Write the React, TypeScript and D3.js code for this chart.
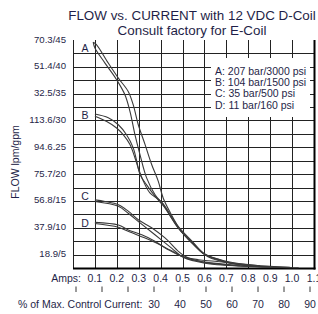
import React, { useEffect, useRef } from 'react'
import * as d3 from 'd3'

// axis values
const ampTicks = [0.1, 0.2, 0.3, 0.4, 0.5, 0.6, 0.7, 0.8, 0.9, 1.0, 1.1]
const ampLabels = ['0.1', '0.2', '0.3', '0.4', '0.5', '0.6', '0.7', '0.8', '0.9', '1.0', '1.1']
const pctTicks = [0, 10, 20, 30, 40, 50, 60, 70, 80, 90]
const pctLabels = ['', '', '', '30', '40', '50', '60', '70', '80', '90']
const flowTicks = [45, 40, 35, 30, 25, 20, 15, 10, 5]
const flowLabels = ['70.3/45', '51.4/40', '32.5/35', '113.6/30', '94.6.25', '75.7/20', '56.8/15', '37.9/10', '18.9/5']

// curves: [amps, gpm], two traces each (up / down current)
const curveA1 = [[0.092, 44.6], [0.1, 43.5], [0.146, 40.7], [0.199, 37.6], [0.237, 34.8], [0.26, 31.7], [0.283, 27.3], [0.306, 23.6], [0.336, 19.3], [0.374, 16.2], [0.412, 14.3], [0.479, 10.0], [0.543, 7.2], [0.598, 5.1], [0.68, 3.8], [0.808, 2.9], [1.0, 2.6]]
const curveA2 = [[0.092, 44.6], [0.106, 44.2], [0.161, 40.7], [0.207, 37.9], [0.252, 35.4], [0.275, 32.9], [0.298, 29.2], [0.329, 25.5], [0.359, 21.8], [0.389, 18.7], [0.412, 15.5], [0.443, 12.9], [0.497, 9.2], [0.557, 6.6], [0.616, 4.6], [0.717, 3.4], [0.899, 2.7], [1.03, 2.55]]
const curveB1 = [[0.1, 31.2], [0.161, 30.5], [0.207, 29.2], [0.245, 27.3], [0.275, 24.9], [0.291, 22.4], [0.306, 19.9], [0.336, 18.0], [0.382, 15.5], [0.412, 14.1], [0.488, 9.6], [0.549, 7.1], [0.595, 5.2], [0.671, 4.0], [0.762, 3.1], [0.884, 2.65], [1.0, 2.6]]
const curveB2 = [[0.1, 30.8], [0.154, 29.8], [0.199, 28.6], [0.23, 27.3], [0.26, 25.5], [0.283, 23.0], [0.298, 21.1], [0.321, 18.7], [0.351, 16.5], [0.405, 14.8], [0.479, 10.3], [0.543, 7.5], [0.602, 5.1], [0.694, 3.8], [0.853, 2.9]]
const curveC1 = [[0.1, 15.2], [0.146, 14.9], [0.207, 14.3], [0.252, 13.1], [0.298, 11.5], [0.359, 10.0], [0.42, 8.1], [0.481, 5.6], [0.511, 4.7], [0.593, 3.6], [0.762, 2.9], [0.99, 2.6]]
const curveC2 = [[0.1, 14.9], [0.207, 14.0], [0.252, 12.7], [0.306, 10.9], [0.374, 8.7], [0.45, 6.2], [0.503, 4.5], [0.602, 3.4], [0.808, 2.8]]
const curveD1 = [[0.1, 11.0], [0.207, 10.5], [0.252, 9.6], [0.314, 8.7], [0.374, 7.5], [0.435, 5.9], [0.496, 4.7], [0.572, 4.05], [0.648, 3.75], [0.808, 3.06], [0.99, 2.63]]
const curveD2 = [[0.1, 10.8], [0.207, 10.1], [0.26, 9.2], [0.351, 7.7], [0.443, 5.85], [0.511, 4.4], [0.602, 3.6], [0.762, 2.97]]

const curveNames = ['A', 'B', 'C', 'D']
const curveLabelFlow = [43.4, 31.0, 15.8, 10.9]
const legendItems = ['A: 207 bar/3000 psi', 'B: 104 bar/1500 psi', 'C: 35 bar/500 psi', 'D: 11 bar/160 psi']

const textColor = '#1f1f48'
const font = 'Liberation Sans, Arial, sans-serif'

function App() {
  const svgRef = useRef(null)

  useEffect(() => {
    const svg = d3.select(svgRef.current)
    svg.selectAll('*').remove()

    const x = d3.scaleLinear().domain([0, 1.1]).range([73, 314])
    const y = d3.scaleLinear().domain([2.5, 45]).range([268, 40])
    const pct = d3.scaleLinear().domain([0, 90]).range([76, 310])

    // titles
    const title = svg.append('g')
      .attr('font-family', font)
      .attr('font-size', 13.4)
      .attr('fill', textColor)
      .attr('text-anchor', 'middle')
    title.append('text').attr('x', 192).attr('y', 20).text('FLOW vs. CURRENT with 12 VDC D-Coil')
    title.append('text').attr('x', 192).attr('y', 35).text('Consult factory for E-Coil')

    // grid
    const grid = svg.append('g').attr('stroke', '#222').attr('stroke-width', 1)
    grid.selectAll('.v')
      .data(d3.range(0, 12).map(i => i / 10))
      .join('line')
      .attr('x1', d => Math.round(x(d)) + 0.5)
      .attr('x2', d => Math.round(x(d)) + 0.5)
      .attr('y1', y(45))
      .attr('y2', y(2.5))
    grid.selectAll('.h')
      .data(d3.range(1, 18).map(i => i * 2.5))
      .join('line')
      .attr('x1', x(0))
      .attr('x2', x(1.1))
      .attr('y1', d => Math.round(y(d)) + 0.5)
      .attr('y2', d => Math.round(y(d)) + 0.5)

    // heavier right and bottom frame
    svg.append('line')
      .attr('x1', x(1.1) + 0.5).attr('x2', x(1.1) + 0.5)
      .attr('y1', y(45)).attr('y2', y(2.5) + 1.5)
      .attr('stroke', '#000').attr('stroke-width', 2)
    svg.append('line')
      .attr('x1', x(0)).attr('x2', x(1.1) + 1.5)
      .attr('y1', y(2.5) + 0.5).attr('y2', y(2.5) + 0.5)
      .attr('stroke', '#000').attr('stroke-width', 2)

    // legend box
    svg.append('rect')
      .attr('x', 211).attr('y', 58)
      .attr('width', 99).attr('height', 59)
      .attr('fill', '#fff')
    svg.append('g')
      .attr('font-family', font)
      .attr('font-size', 10.5)
      .attr('fill', textColor)
      .selectAll('text')
      .data(legendItems)
      .join('text')
      .attr('x', 215)
      .attr('y', (d, i) => 74.5 + i * 11.4)
      .text(d => d)

    // curves
    const line = d3.line()
      .x(d => x(d[0]))
      .y(d => y(d[1]))
      .curve(d3.curveCatmullRom.alpha(0.5))
    svg.append('g')
      .attr('fill', 'none')
      .attr('stroke', '#3a3a3a')
      .attr('stroke-width', 1.1)
      .selectAll('path')
      .data([curveA1, curveA2, curveB1, curveB2, curveC1, curveC2, curveD1, curveD2])
      .join('path')
      .attr('d', line)

    // curve letters
    svg.append('g')
      .attr('font-family', font)
      .attr('font-size', 10.5)
      .attr('fill', textColor)
      .attr('text-anchor', 'middle')
      .selectAll('text')
      .data(curveNames)
      .join('text')
      .attr('x', 85)
      .attr('y', (d, i) => y(curveLabelFlow[i]) + 3.8)
      .text(d => d)

    // y axis labels
    svg.append('g')
      .attr('font-family', font)
      .attr('font-size', 9.6)
      .attr('fill', textColor)
      .attr('text-anchor', 'end')
      .selectAll('text')
      .data(flowTicks)
      .join('text')
      .attr('x', 66)
      .attr('y', d => y(d) + 2.5)
      .text((d, i) => flowLabels[i])

    svg.append('text')
      .attr('transform', 'translate(19, 162) rotate(-90)')
      .attr('font-family', font)
      .attr('font-size', 10.5)
      .attr('fill', textColor)
      .attr('text-anchor', 'middle')
      .text('FLOW lpm/gpm')

    // bottom: amps
    const bottom = svg.append('g')
      .attr('font-family', font)
      .attr('font-size', 10.5)
      .attr('fill', textColor)
    bottom.append('text')
      .attr('x', 81).attr('y', 281.5)
      .attr('text-anchor', 'end')
      .text('Amps:')
    bottom.selectAll('.amp')
      .data(ampTicks)
      .join('text')
      .attr('x', d => x(d))
      .attr('y', 281.5)
      .attr('text-anchor', 'middle')
      .text((d, i) => ampLabels[i])

    // percent ticks and labels
    bottom.selectAll('.tick')
      .data(pctTicks)
      .join('line')
      .attr('x1', d => pct(d)).attr('x2', d => pct(d))
      .attr('y1', 286.5).attr('y2', 292)
      .attr('stroke', '#222').attr('stroke-width', 0.9)
    bottom.append('text')
      .attr('x', 18).attr('y', 308)
      .text('% of Max. Control Current:')
    bottom.selectAll('.pct')
      .data(pctTicks.filter((d, i) => pctLabels[i] !== ''))
      .join('text')
      .attr('x', d => pct(d))
      .attr('y', 308)
      .attr('text-anchor', 'middle')
      .text(d => pctLabels[pctTicks.indexOf(d)])
  }, [])

  return (
    <svg
      ref={svgRef}
      width={318}
      height={314}
      style={{ position: 'absolute', left: 0, top: 0, background: '#fff' }}
    />
  )
}

export default App
